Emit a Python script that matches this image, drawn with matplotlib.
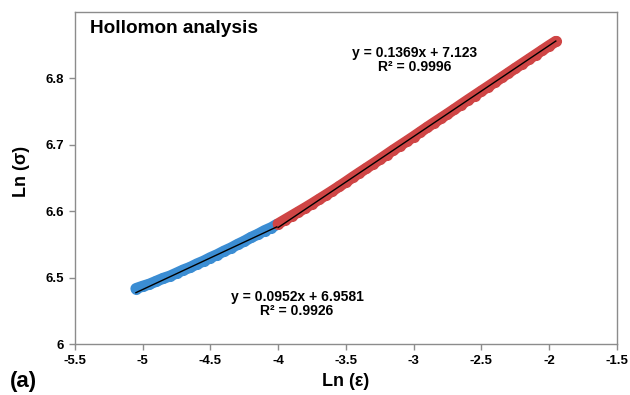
import numpy as np
import matplotlib
matplotlib.use("Agg")
import matplotlib.pyplot as plt

plt.rcParams['font.family'] = ['Liberation Sans', 'DejaVu Sans']
plt.rcParams['font.weight'] = 'bold'

# Ln(strain) / Ln(stress) points, first stage (blue) and second stage (red)
x_blue = [-5.05, -5.00, -4.95, -4.90, -4.85, -4.80, -4.75, -4.70, -4.65, -4.60, -4.55,
          -4.50, -4.45, -4.40, -4.35, -4.30, -4.25, -4.20, -4.15, -4.10, -4.05, -4.01]
y_blue = [6.4835, 6.4870, 6.4902, 6.4945, 6.4988, 6.5022, 6.5068, 6.5115, 6.5154, 6.5205, 6.5248,
          6.5300, 6.5345, 6.5398, 6.5444, 6.5499, 6.5548, 6.5605, 6.5652, 6.5707, 6.5752, 6.5800]

x_red = [-4.00, -3.95, -3.90, -3.85, -3.80, -3.75, -3.70, -3.65, -3.60, -3.55, -3.50,
         -3.45, -3.40, -3.35, -3.30, -3.25, -3.20, -3.15, -3.10, -3.05, -3.00,
         -2.95, -2.90, -2.85, -2.80, -2.75, -2.70, -2.65, -2.60, -2.55, -2.50,
         -2.45, -2.40, -2.35, -2.30, -2.25, -2.20, -2.15, -2.10, -2.05, -2.00, -1.95]
y_red = [6.5810, 6.5870, 6.5930, 6.5990, 6.6050, 6.6112, 6.6176, 6.6240, 6.6305, 6.6372, 6.6440,
         6.6510, 6.6578, 6.6645, 6.6712, 6.6780, 6.6850, 6.6920, 6.6987, 6.7054, 6.7122,
         6.7192, 6.7262, 6.7330, 6.7397, 6.7464, 6.7533, 6.7603, 6.7672, 6.7740, 6.7808,
         6.7875, 6.7943, 6.8012, 6.8081, 6.8150, 6.8218, 6.8286, 6.8354, 6.8422, 6.8490, 6.8555]

# linear trendline coefficients (slope, intercept) and R^2
fit_blue = (0.0952, 6.9581, 0.9926)
fit_red = (0.1369, 7.123, 0.9996)

x_ticks = [-5.5, -5, -4.5, -4, -3.5, -3, -2.5, -2, -1.5]
y_ticks = [6.4, 6.5, 6.6, 6.7, 6.8]
y_ticklabels = ['6', '6.5', '6.6', '6.7', '6.8']

blue = '#3b8dd3'
red = '#cf4545'
gray = '#8c8c8c'

fig = plt.figure(figsize=(6.3, 3.95), dpi=100)
ax = fig.add_axes([0.119, 0.129, 0.860, 0.841])

for xs, ys, c in [(x_blue, y_blue, blue), (x_red, y_red, red)]:
    ax.plot(xs, ys, color=c, lw=8, solid_capstyle='round', zorder=2)
    ax.plot(xs, ys, 'o', color=c, ms=8, mew=0, zorder=2)

for xs, (m, b, r2) in [(x_blue, fit_blue), (x_red, fit_red)]:
    xx = np.array([min(xs), max(xs)])
    ax.plot(xx, m * xx + b, color='black', lw=1.0, zorder=3)

ax.text(-3.86, 6.481, 'y = %.4fx + %.4f\nR² = %.4f' % fit_blue, ha='center', va='top',
        fontsize=10, fontweight='bold', linespacing=1.0)
ax.text(-2.99, 6.849, 'y = %.4fx + %.3f\nR² = %.4f' % fit_red, ha='center', va='top',
        fontsize=10, fontweight='bold', linespacing=1.0)
ax.text(0.028, 0.975, 'Hollomon analysis', transform=ax.transAxes, ha='left', va='top',
        fontsize=13.7, fontweight='bold')

ax.set_xlim(-5.5, -1.5)
ax.set_ylim(6.4, 6.9)
ax.set_xticks(x_ticks)
ax.set_xticklabels([('%g' % v) for v in x_ticks])
ax.set_yticks(y_ticks)
ax.set_yticklabels(y_ticklabels)
ax.tick_params(axis='both', direction='out', length=4, width=1, color=gray,
               labelsize=9.5, pad=4)
for lab in ax.get_xticklabels() + ax.get_yticklabels():
    lab.set_fontweight('bold')
for s in ax.spines.values():
    s.set_color(gray)
    s.set_linewidth(1.0)

ax.set_xlabel('Ln (ε)', fontsize=13, fontweight='bold', labelpad=4)
ax.set_ylabel('Ln (σ)', fontsize=13, fontweight='bold')
ax.yaxis.set_label_coords(-0.083, 0.52)

# panel letter, bottom-left corner
fig.text(0.016, 0.008, '(a)', ha='left', va='bottom', fontsize=16, fontweight='bold')

fig.savefig('out.png', dpi=100)
